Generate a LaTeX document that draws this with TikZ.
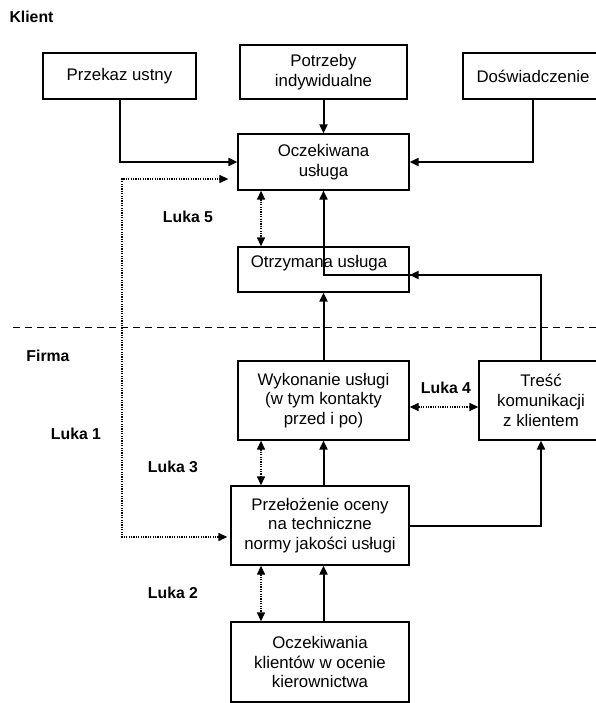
\documentclass[tikz,border=0pt]{standalone}
\usepackage{fontspec}
\setmainfont{Liberation Sans}
\usetikzlibrary{arrows.meta}

\begin{document}
\begin{tikzpicture}[x=1pt, y=-1pt,
    box/.style={draw, line width=1.3pt, inner sep=0pt, align=center, font=\fontsize{16.8}{19.8}\selectfont},
    flow/.style={line width=2pt, -{Triangle[length=9pt,width=8pt]}},
    gap/.style={line width=1.3pt, dash pattern=on 1.2pt off 1.2pt, {Triangle[length=9pt,width=8pt]}-{Triangle[length=9pt,width=8pt]}},
    luka/.style={font=\fontsize{15.8}{18}\selectfont\bfseries}]
    \useasboundingbox (0,0) rectangle (596,703);

      % klient
      \node[luka, anchor=west] (klient) at (6,17) {Klient};
      \node[box, minimum width=153pt, minimum height=46pt] (przekaz) at (119.5,76) {Przekaz ustny};
      \node[box, minimum width=167pt, minimum height=54pt] (potrzeby) at (323.5,72) {Potrzeby\\indywidualne};
      \node[box, minimum width=140pt, minimum height=46pt] (dosw) at (533,76) {Doświadczenie};
      \node[box, minimum width=171pt, minimum height=56pt] (oczek) at (323.5,162) {Oczekiwana\\usługa};
      \node[box, minimum width=171pt, minimum height=45pt] (otrz) at (323.5,269.5) {};
      \node[box, draw=none] (otrzlbl) at (319,263) {Otrzymana usługa};

      \draw[line width=1pt, dash pattern=on 7pt off 5pt] (13,327) -- (596,327);

      % firma
      \node[luka] (firma) at (48,356) {Firma};
      \node[box, minimum width=171pt, minimum height=79pt] (wyk) at (323.5,400.5) {Wykonanie usługi\\(w tym kontakty\\przed i po)};
      \node[box, minimum width=124pt, minimum height=79pt] (tresc) at (541,400.5) {Treść\\komunikacji\\z klientem};
      \node[box, minimum width=178pt, minimum height=79pt] (przel) at (320,525.5) {Przełożenie oceny\\na techniczne\\normy jakości usługi};
      \node[box, minimum width=178pt, minimum height=80pt] (oczkier) at (320,662) {Oczekiwania\\klientów w ocenie\\kierownictwa};

      \node[luka] (l5) at (188,217) {Luka 5};
      \node[luka] (l4) at (446,388) {Luka 4};
      \node[luka] (l1) at (76,434) {Luka 1};
      \node[luka] (l3) at (173,467) {Luka 3};
      \node[luka] (l2) at (173,593) {Luka 2};

      \coordinate (turn) at (323.5,275);
      \coordinate (corner) at (122,179);

      \draw[flow] (przekaz.south) |- (oczek.west);
      \draw[flow] (potrzeby.south) -- (oczek.north);
      \draw[flow] (dosw.south) |- (oczek.east);
      \draw[flow] (tresc.north) |- ([yshift=-5.5pt]otrz.east);
      \draw[flow] (tresc.north) |- (turn) -- (oczek.south);
      \draw[flow] (wyk.north) -- (otrz.south);
      \draw[flow] (przel.north -| wyk.south) -- (wyk.south);
      \draw[flow] (przel.east) -| (tresc.south);
      \draw[flow] (oczkier.north -| wyk.south) -- (przel.south -| wyk.south);

      \draw[gap, shorten <=3pt, shorten >=9pt] ([yshift=-11.5pt]przel.west) -| (corner) -- ([yshift=-17pt]oczek.west);
      \draw[gap] ([xshift=-62.5pt]oczek.south) -- ([xshift=-62.5pt]otrz.north);
      \draw[gap] ([yshift=-6.5pt]wyk.east) -- ([yshift=-6.5pt]tresc.west);
      \draw[gap] ([xshift=-62.5pt]wyk.south) -- ([xshift=-59pt]przel.north);
      \draw[gap] ([xshift=-59pt]przel.south) -- ([xshift=-59pt]oczkier.north);

\end{tikzpicture}
\end{document}
